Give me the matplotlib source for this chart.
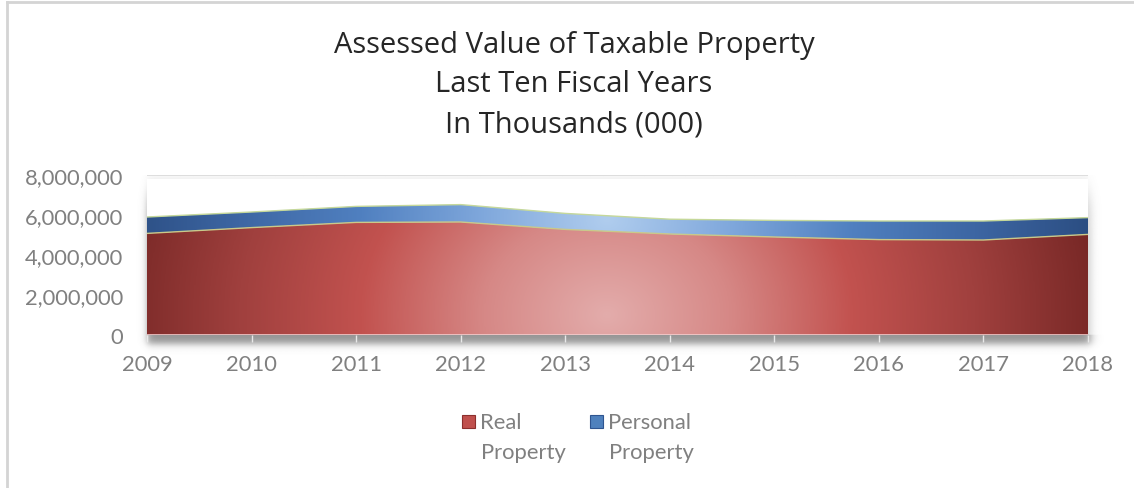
import numpy as np
import matplotlib
matplotlib.use("Agg")
import matplotlib.pyplot as plt
from matplotlib.colors import LinearSegmentedColormap
from matplotlib.patches import Rectangle
from matplotlib.lines import Line2D
from matplotlib.ticker import FuncFormatter

plt.rcParams["font.family"] = ["Lato", "DejaVu Sans"]

# Assessed values, in thousands
years = [2009, 2010, 2011, 2012, 2013, 2014, 2015, 2016, 2017, 2018]
real_property = [5080000, 5370000, 5630000, 5650000, 5280000,
                 5050000, 4900000, 4770000, 4750000, 5030000]
personal_property = [820000, 780000, 800000, 870000, 800000,
                     740000, 830000, 930000, 950000, 840000]
series_names = ["Real\nProperty", "Personal\nProperty"]
title_lines = ["Assessed Value of Taxable Property",
               "Last Ten Fiscal Years",
               "In Thousands (000)"]
y_ticks = [0, 2000000, 4000000, 6000000, 8000000]

W, H = 1134, 489
fig = plt.figure(figsize=(W / 100, H / 100), dpi=100)
fig.patch.set_facecolor("white")

ax = fig.add_axes([147 / W, 1 - 336 / H, 941 / W, 160 / H])
ax.set_xlim(years[0], years[-1])
ax.set_ylim(0, 8000000)
for s in ax.spines.values():
    s.set_visible(False)

x = np.array(years, dtype=float)
real = np.array(real_property, dtype=float)
total = real + np.array(personal_property, dtype=float)

# soft drop shadow behind the plotted series
sx0, sx1 = years[0], years[-1] + 0.03
sy0, sy1 = -450000, 7000000
gx = np.linspace(years[0] - 0.4, years[-1] + 0.4, 900)
gy = np.linspace(-1200000, 8000000, 500)
GX, GY = np.meshgrid(gx, gy)
sig = lambda v: 1.0 / (1.0 + np.exp(-v))
alpha = (sig((GX - sx0) / 0.02) * sig((sx1 - GX) / 0.025)
         * sig((GY - sy0) / 110000) * sig((sy1 - GY) / 400000))
side = np.where((GX > years[-1]) & (GY > 0), 0.45, 1.0)
shadow = np.zeros(GX.shape + (4,))
shadow[..., :3] = 0.40
shadow[..., 3] = alpha * side * 0.7
ax.imshow(shadow, extent=[gx[0], gx[-1], gy[0], gy[-1]], origin="lower",
          aspect="auto", zorder=0.2, clip_on=False, interpolation="bilinear")
ax.add_patch(Rectangle((years[0], 0), years[-1] - years[0], 7800000,
                       facecolor="white", edgecolor="none", zorder=0.3))

ax.plot([years[0], years[-1]], [8000000, 8000000], color="#d9d9d9", lw=1.2, zorder=0.4)

red_cmap = LinearSegmentedColormap.from_list(
    "red_fill", ["#e3acab", "#d68886", "#c2524f", "#a0403e", "#782826"])
blue_cmap = LinearSegmentedColormap.from_list(
    "blue_fill", ["#b0cdee", "#80a8dc", "#5080c0", "#3d66a3", "#2a4c80"])

hx = np.linspace(years[0], years[-1], 800)
hy = np.linspace(0, 8000000, 400)
HX, HY = np.meshgrid(hx, hy)


def gradient_fill(lower, upper, cmap, yc, zorder):
    poly = ax.fill_between(x, lower, upper, facecolor="none", edgecolor="none")
    t = np.sqrt(((HX - 2013.4) / 4.7) ** 2 + ((HY - yc) / 20000000) ** 2)
    img = ax.imshow(cmap(np.clip(t, 0, 1)), extent=[hx[0], hx[-1], hy[0], hy[-1]],
                    origin="lower", aspect="auto", zorder=zorder,
                    interpolation="bilinear")
    img.set_clip_path(poly.get_paths()[0], transform=ax.transData)


gradient_fill(np.zeros_like(real), real, red_cmap, 1000000, 1.0)
gradient_fill(real, total, blue_cmap, 5800000, 1.1)

ax.plot(x, real, color="#c9c98a", lw=1.0, zorder=1.5)
ax.plot(x, total, color="#c5d89a", lw=1.0, zorder=1.5)
ax.plot([years[0], years[-1]], [0, 0], color="#f2cccc", lw=1.2, zorder=1.6)

ax.set_aspect("auto")
ax.set_xticks(years)
ax.set_xticklabels([str(y) for y in years])
ax.set_yticks(y_ticks)
ax.yaxis.set_major_formatter(FuncFormatter(lambda v, p: f"{int(v):,}"))
ax.tick_params(axis="x", colors="#e8e8e8", length=5, width=1, direction="out",
               pad=9, labelsize=15.8, labelcolor="#808080")
ax.tick_params(axis="y", length=0, pad=17, labelsize=15.8, labelcolor="#808080")
for t in ax.xaxis.get_major_ticks():
    t.tick1line.set_zorder(3)

# chart titles
for txt, yy in zip(title_lines, [46, 85, 125]):
    fig.text(574 / W, 1 - yy / H, txt, ha="center", va="center",
             fontsize=21, color="#262626", family=["Open Sans", "DejaVu Sans"])

# legend
legend_items = [(462, "#c0504d", "#8c2f2d", series_names[0]),
                (590, "#4f81bd", "#2f5590", series_names[1])]
for lx, fc, ec, name in legend_items:
    fig.patches.append(Rectangle((lx / W, 1 - 429 / H), 13 / W, 13 / H,
                                 transform=fig.transFigure, facecolor=fc,
                                 edgecolor=ec, lw=0.8))
    first, second = name.split("\n")
    fig.text((lx + 18) / W, 1 - 423 / H, first, ha="left", va="center",
             fontsize=15.8, color="#808080")
    fig.text((lx + 19) / W, 1 - 453 / H, second, ha="left", va="center",
             fontsize=15.8, color="#808080")

# chart frame
fig.lines.append(Line2D([7 / W, 7 / W], [0, 1 - 3 / H], transform=fig.transFigure,
                        color="#d4d4d4", lw=2))
fig.lines.append(Line2D([7 / W, 1], [1 - 3 / H, 1 - 3 / H], transform=fig.transFigure,
                        color="#d4d4d4", lw=2))

fig.savefig("out.png", dpi=100, facecolor="white")
